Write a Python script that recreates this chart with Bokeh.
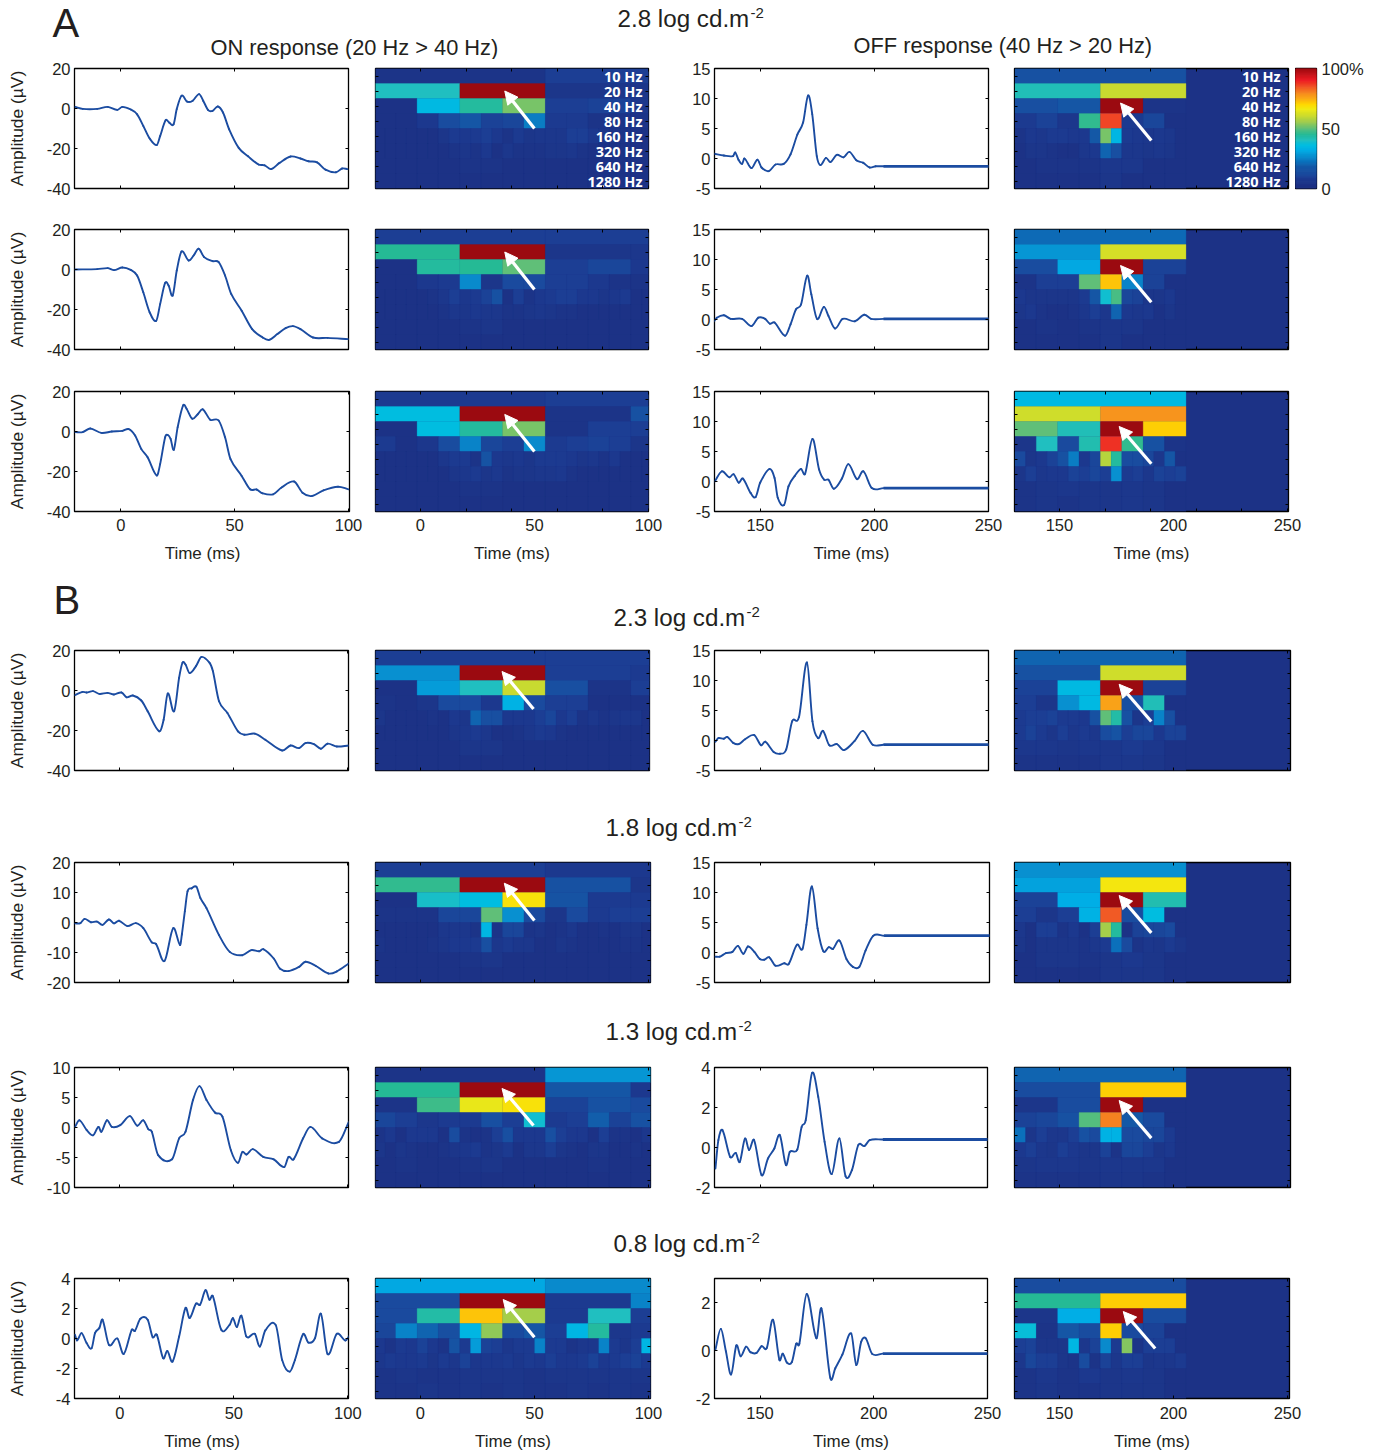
from bokeh.plotting import figure
from bokeh.layouts import column, row
from bokeh.models import Range1d, LinearAxis, FixedTicker, Label, Arrow, NormalHead, ColumnDataSource, LinearColorMapper
from bokeh.core.properties import value
from bokeh.embed import file_html
from bokeh.resources import INLINE

# ---------- traces (time in ms, amplitude in uV) ----------
ON_A1_T = [-20,-16.7,-10.3,-5.7,-1.5,.7,4.4,7.2,9.9,12.7,15.8,17.3,19.7,21.3,23.2,24.6,26.7,29.2,31.6,34.4,36.2,38.4,40.3,42.6,44.9,47.6,51.8,55.9,60.5,63.2,66,69.7,74.6,78.9,82.5,86.2,89.9,94.5,97.2,99.6]
ON_A1_V = [.8,-.2,-.2,.8,-.7,.8,-.5,-2.9,-8.7,-15,-18.3,-13.8,-5.9,-7.1,-7.9,-.3,6.4,3.4,3.9,7.2,3.9,-.8,-1.2,1,-2,-10.4,-19.7,-23.9,-28,-28.4,-30.3,-27.2,-24,-25,-26.4,-26.9,-30.6,-31.9,-30,-30.3]
ON_A2_T = [-20,-10.3,-5.7,-2.9,.7,4.4,7.2,9.9,12.7,15.6,17.3,19.5,21,22.8,24.6,26.7,29.8,32,34.2,36.6,40.3,43,45.8,48.5,53.1,57.7,62.3,65.1,68.8,72.4,75.6,78.9,84.4,90.8,100]
ON_A2_V = [0,.2,.7,-.3,1,-.2,-3,-11.4,-21.4,-25.6,-17.3,-6.7,-8,-13,-.5,9,4.5,7,10.4,6.2,4.2,3.7,-3,-12.2,-20.6,-29.8,-34,-35.2,-32.3,-29.3,-28.3,-29.8,-34,-34.2,-34.8]
ON_A3_T = [-20,-16.7,-13.4,-8.5,-3.9,.7,3.5,6.3,9,11.8,15.8,17.3,19.5,20.6,21.9,23.3,25,27.4,28.9,31.4,33.8,36,39.3,43,45.8,48.2,53.1,56.8,59.6,62.3,66.9,70.6,76.1,79.8,83.8,89,95.4,100]
ON_A3_V = [-.3,-.3,1.5,-.7,0,.3,1.2,-2,-8.7,-12.9,-22,-16.3,-2.9,-1.7,-3.7,-9.1,2.2,13.1,11.4,6.4,8.6,11.1,5.9,5.5,-2.9,-13.8,-22.2,-28.9,-29,-30.9,-31.4,-28,-25,-30.6,-32.3,-29.4,-27.6,-28.9]
ON_B1_T = [-19.7,-16.4,-14.6,-11.8,-9,-5.4,-2.6,.7,3,5.7,9.4,12.2,17.3,19.2,21,23.8,26,27.5,28.8,30.6,33.4,35.8,39.3,40.8,43.5,47.2,51.8,54.6,59.2,63.8,71.2,74.9,78.6,81.4,85.1,88.2,91.1,95.2,100.4]
ON_B1_V = [-2.3,-.7,-1,-.3,-1.7,-1.2,-2,-1,-3.4,-2.5,-5,-10.4,-20.4,-14.6,-1.5,-10.4,6.4,13.9,13,8.7,12.2,16.8,13.9,9.7,-5.4,-11.2,-20.4,-22.1,-21.6,-24.6,-30,-27.5,-28.8,-26.3,-26.8,-29.1,-26.6,-28,-27.5]
ON_B2_T = [-19.7,-17.3,-15.5,-12.7,-10,-7.6,-4.8,-2.6,-.4,3.3,7,10.3,14,15.9,19.6,23.4,26.4,27.2,28.5,29.7,31.5,33.6,35.3,38,43.5,48.2,53.7,57.7,61.1,62.9,67.5,70.3,74,78.6,81.4,86,91.5,95.2,100.4]
ON_B2_V = [-.3,-.2,1.2,.1,.3,-.8,1,-.3,.6,-1.2,-.2,-1.9,-6.6,-7.2,-12.8,-1.9,-7.5,-4,3.7,10.4,11.4,11.9,8.2,4.8,-4.2,-9.8,-10.9,-9.2,-9.6,-8.9,-12,-15.4,-16.2,-14.8,-13.1,-14.5,-17,-16.3,-13.7]
ON_B3_T = [-19.7,-17.7,-14.6,-11.8,-9.4,-8.1,-5.7,-3.5,.2,4.4,7.6,10.3,12.5,14,16.8,22.9,26,28.8,32.1,34.9,38,41.7,45,48.7,51.8,53.7,55.5,58.3,62.9,67.5,72.1,74,76.2,80.4,83.6,88.7,96.1,100.4]
ON_B3_V = [.1,1.2,-.4,-1.3,.1,-.7,1.2,.1,.4,1.9,.3,1.2,-.3,-.7,-4.6,-5.3,-1.8,-.7,4.6,6.9,4.6,2.5,1.8,-3.8,-5.9,-4.1,-4.5,-3.6,-4.9,-5.3,-6.6,-4.9,-5.3,-1.8,.1,-1.8,-2.4,.9]
ON_B4_T = [-19.7,-18.8,-16.8,-14.6,-12.4,-10.9,-9,-7.6,-4.8,-1.1,1.7,5.2,6.6,9,12.2,14.4,16.2,19,20.8,23.1,26,28.8,30.6,33.4,35.2,37.6,39.3,40.8,44.5,48.2,49.6,51.3,53.3,55.5,59.2,61.4,63.8,68.4,71.2,74.5,76.8,80.4,82.7,85.6,88.2,91.1,95.2,98.9,100.7]
ON_B4_V = [.25,-.13,.36,-.3,-.65,.36,.7,1.25,-.42,0,-1.03,.58,.51,1.32,1.25,.09,.25,-1.32,-.83,-1.54,.13,2.03,1.36,2.32,2.26,3.22,2.59,2.82,.58,.92,1.36,.76,1.52,.13,.31,-.54,.54,.89,-1.43,-2.21,-1.43,.29,-.27,.02,1.65,-1.03,.31,-.13,.18]

OFF_A1_T = [129.8,134.1,138.1,139.1,140.5,142.1,143.1,146.2,148.8,150.6,153.8,156.7,160.3,163.3,166.3,168.8,171,172.8,174.8,176.4,178.8,180.8,183.5,186.5,189.1,192.1,195,198,200.6,204]
OFF_A1_V = [.8,.5,.4,1,-.2,-.9,0,-1.6,-.2,-1.5,-2.1,-1,-.9,.7,4,6,10.5,7.4,.4,-1.1,.1,-.6,.6,.2,1.1,-.3,-.7,-1.5,-1.3,-1.3]
OFF_A2_T = [129.8,131,134.1,137.1,142.1,146.2,149.2,152.2,154.2,156.3,160.9,163.3,165.7,167.9,170.6,172.4,174.9,177.9,179.9,182.8,186.1,191.5,195.6,198.6,204]
OFF_A2_V = [-.3,.3,.7,.1,.1,-1.1,.3,.1,-.7,-.5,-2.7,-.8,1.7,2.5,7.3,4.2,.1,2.1,.6,-1.5,.1,-.3,.8,.1,.1]
OFF_A3_T = [130.1,133.2,136.5,138.4,140.6,142.4,145.8,148,150,154.1,156.3,157.7,160.5,162.4,165.1,167.9,169.7,172.9,175.8,178,179.9,182.3,185.8,188.6,192.4,195.2,198.9,204]
OFF_A3_V = [0,1.7,.7,1.2,-.2,.5,-1.9,-2.6,-.2,2.1,.6,-2.7,-3.9,-.8,.9,2.1,1.3,7.1,2,.3,.3,-1.2,.5,2.9,.4,1.7,-1.1,-1.1]
OFF_B1_T = [130.4,131.7,134.1,135.6,138.2,140.6,143.4,147.4,150.4,152.2,155.9,158.7,161.4,164,167,170.5,172.9,175.3,177.5,180.3,183.6,186.7,191.3,195,199.3,204]
OFF_B1_V = [-.2,.4,.3,.6,-.4,-.6,.2,.9,-.8,-.2,-1.9,-2.2,-1.5,3.2,3.9,13,3.2,.4,1.6,-.8,-.6,-1.6,-.1,1.6,-.7,-.7]
OFF_B2_T = [130.4,132.3,135,137.8,140.2,142.6,144.6,147.4,149.8,151.7,153.9,156.6,160.5,162.4,166,168.4,170.1,172.5,175,177.5,179.9,181.7,184.5,187.6,190.4,193.2,195.9,199.3,204]
OFF_B2_V = [-.7,-.7,-.1,.1,1.1,-.2,1,.1,-1.1,-1.2,-.8,-2.2,-1.8,-1.9,1.3,.6,4.6,11,4,.2,.9,.6,2,-1.1,-2.4,-2.4,.3,2.8,2.8]
OFF_B3_T = [130.4,131.7,133.5,136.9,139.3,141.1,143.4,145.2,147.4,150.7,153.5,156.3,158.7,161.4,163.1,166.4,168.3,170.1,172.9,175.6,178.4,181.5,184.9,187.6,190.4,193.2,195.9,198.2,204]
OFF_B3_V = [-1.05,.37,.87,-.47,-.27,-.72,.45,-.13,.37,-1.38,-.55,-.05,.62,-.88,-.22,-.1,1.03,1.37,3.73,2.53,.28,-1.33,.45,-1.43,-1.13,.12,.07,.37,.4]
OFF_B4_T = [130.4,132.8,135,137.3,139.6,141.5,143.9,145.8,148.5,150.7,153,155.7,158.5,160,161.8,164,165.9,167.3,170.5,174.8,177,180.9,183.1,186.2,190.1,192.3,194.5,196.5,199.3,204]
OFF_B4_V = [.04,.9,-.03,-1,.21,-.24,.16,-.07,-.1,.18,.11,1.28,-.38,-.13,-.5,-.48,.28,.28,2.35,.51,1.75,-1.14,-.74,-.17,.71,-.6,.37,.51,-.14,-.13]
# flat stretch at the end of each OFF trace
OFF_TAIL_T = [204, 251]
OFF_TAIL_LEVEL = {"A1": -1.3, "A2": .1, "A3": -1.1, "B1": -.7, "B2": 2.8, "B3": .4, "B4": -.13}

# ---------- scalograms (percent; rows 10 Hz to 1280 Hz, each row a list of cells) ----------
FREQS = ["10 Hz", "20 Hz", "40 Hz", "80 Hz", "160 Hz", "320 Hz", "640 Hz", "1280 Hz"]
CELL_MS = [75, 37.5, 18.75, 9.375, 4.6875, 4.6875, 9.375, 9.375]

HEAT_A1_ON = [[4,9],[40,100,5,5],[3,35,44,52,9,10,6,5],
 [3,3,7,13,17,10,11,24,8,8,4,4,4,4],
 [3,3,3,3,3,3,5,8,7,8,9,7,4,8,5,6,6,6,9,9,7,5,4,4,3,3],
 [3,3,3,3,3,3,3,4,5,4,7,3,6,4,4,4,5,5,6,4,3,3,3,3,3,3],
 [3,3,3,3,4,4,3,3,3,3,3,3,3],[3,3,3,3,3,3,3,3,3,3,3,3,3]]
HEAT_A2_ON = [[9,9],[45,100,5,6],[3,44,45,50,9,11,7,7],
 [3,3,7,8,26,5,12,12,9,9,7,4,4,4],
 [3,3,3,3,3,4,6,9,6,8,10,15,3,9,4,7,8,9,9,7,7,5,6,8,3,3],
 [3,3,3,3,3,3,4,6,5,7,6,6,4,4,5,6,5,4,4,3,3,3,3,3,3,3],
 [3,3,3,3,4,5,3,3,3,3,3,3,3],[3,3,3,3,3,3,3,3,3,3,3,3,3]]
HEAT_A3_ON = [[8,9],[36,100,4,15],[3,36,44,52,4,9,9,6],
 [8,3,6,13,25,11,9,26,8,9,10,9,5,5],
 [3,3,3,3,3,3,6,8,8,4,16,7,6,7,5,8,8,8,7,5,6,4,7,3,3,3],
 [3,3,3,3,3,3,3,5,6,8,5,7,4,5,5,6,6,7,4,3,3,3,3,3,3,3],
 [3,3,3,3,4,4,3,3,3,3,3,3,3],[3,3,3,3,3,3,3,3,3,3,3,3,3]]
HEAT_B1_ON = [[9,9],[27,100,9,8],[3,29,40,60,14,4,9,4],
 [4,3,5,12,12,7,33,12,9,9,3,3,3,3],
 [5,3,3,3,3,4,3,7,5,20,14,14,7,7,7,9,11,7,9,4,6,4,5,6,6,3],
 [3,3,3,3,3,3,3,5,6,8,6,3,3,4,6,8,7,4,3,3,3,3,3,3,3,3],
 [3,3,3,3,5,5,3,3,3,3,3,3,3],[3,3,3,3,3,3,3,3,3,3,3,3,3]]
HEAT_B2_ON = [[9,7],[46,100,15,5],[3,39,36,68,16,8,8,8],
 [4,4,4,11,11,50,27,12,5,12,8,9,9,9],
 [3,3,3,3,3,3,6,6,6,4,34,4,11,11,4,5,3,4,6,3,3,4,3,5,5,3],
 [4,3,3,3,3,4,5,7,7,8,14,6,8,6,6,3,3,5,4,3,3,3,3,4,4,3],
 [3,3,3,3,4,5,3,3,3,3,3,3,3],[3,3,3,3,3,3,3,3,3,3,3,3,3]]
HEAT_B3_ON = [[4,28],[45,100,17,7],[4,47,65,68,10,15,12,12],
 [11,9,6,8,8,14,9,38,8,9,19,10,15,15],
 [4,7,3,7,7,7,3,13,4,3,4,9,14,7,7,7,14,9,7,7,3,9,4,4,3,6],
 [5,3,5,4,3,3,4,5,6,8,4,5,8,3,6,6,9,5,4,3,5,5,3,3,4,3],
 [3,4,3,3,4,5,3,3,3,3,4,3,3],[3,3,3,3,3,3,3,3,3,3,3,3,3]]
HEAT_B4_ON = [[31,26],[12,100,8,25],[12,43,72,56,8,40,9,9],
 [11,25,20,14,34,54,12,17,9,34,44,6,8,8],
 [7,4,8,7,10,7,4,16,8,29,10,9,6,8,8,25,8,8,4,6,6,25,8,5,9,34],
 [6,8,7,7,8,5,8,6,10,6,7,7,8,6,8,7,9,7,7,8,10,7,8,9,10,8],
 [4,5,4,4,5,5,5,4,5,5,5,5,5],[4,4,5,4,5,4,5,4,4,5,4,5,4]]

HEAT_A1_OFF = [[15],[41,60],[14,17,100,4],[8,10,6,46,86,8,11,3],
 [4,7,6,8,8,7,7,18,52,34,8,7,6,7,6,3],[3,5,5,4,3,3,6,7,20,14,6,6,5,6,5,3],
 [3,4,4,4,6,6,3,3],[3,3,3,3,5,3,3,3]]
HEAT_A2_OFF = [[21],[28,62],[13,31,100,10],[4,9,9,50,72,25,10,3],
 [7,5,5,5,5,5,8,17,38,48,11,10,5,5,7,3],[5,7,4,3,3,4,6,9,6,20,7,6,7,3,5,3],
 [3,4,3,4,5,5,3,3],[3,3,3,3,5,3,3,3]]
HEAT_A3_OFF = [[35],[61,78],[50,41,100,71],[5,40,12,42,88,46,15,4],
 [12,5,7,10,15,24,7,11,58,44,13,13,11,6,17,3],[5,9,6,7,7,10,9,11,9,27,8,9,6,10,9,10],
 [4,5,6,5,5,6,5,3],[4,5,4,5,5,6,5,3]]
HEAT_B1_OFF = [[20],[15,61],[10,35,100,10],[9,5,27,35,76,14,41,3],
 [8,9,9,10,8,8,7,15,50,43,15,5,9,25,14,3],[8,10,8,5,9,6,8,6,13,16,9,11,11,7,10,10],
 [6,6,5,6,6,8,6,3],[4,4,4,4,6,6,5,3]]
HEAT_B2_OFF = [[27],[30,67],[10,32,100,42],[9,5,9,33,84,13,36,3],
 [6,3,9,9,4,7,3,9,56,44,3,10,11,11,12,3],[5,3,5,5,5,5,4,6,8,22,12,4,6,5,8,5],
 [3,5,5,4,5,7,5,3],[3,3,3,3,5,5,5,3]]
HEAT_B3_OFF = [[20],[13,71],[5,13,100,3],[10,11,15,49,80,18,12,3],
 [22,5,9,6,6,9,15,12,33,33,12,12,11,11,8,3],[7,9,6,5,9,7,5,5,10,4,11,11,9,5,7,3],
 [5,6,6,5,6,6,6,3],[4,4,4,4,5,5,4,3]]
HEAT_B4_OFF = [[13],[45,71],[5,32,100,13],[37,4,17,13,71,12,10,3],
 [9,10,5,5,5,34,6,10,26,8,53,4,9,9,9,3],[6,11,9,9,5,4,13,4,10,6,9,9,5,6,6,8],
 [4,6,4,7,5,6,5,3],[4,5,4,4,5,5,5,3]]

# arrows: tail x, tail row, tip x, tip row
ARROWS = {
 "A1": ((50,4.0,37,1.5),(190.3,4.8,176.8,2.3)),
 "A2": ((50,4.0,37,1.5),(190.3,4.85,176.8,2.4)),
 "A3": ((50,4.0,37,1.53),(190.3,4.82,176.2,2.33)),
 "B1": ((49.6,3.9,35.8,1.4),(190.3,4.73,176.2,2.25)),
 "B2": ((50,3.87,36.8,1.38),(190.3,4.69,176.2,2.2)),
 "B3": ((49.6,3.87,35.8,1.4),(190.3,4.71,176.2,2.2)),
 "B4": ((50,3.91,36.3,1.4),(192,4.67,178,2.2)),
}

COLORBAR_LEVELS = list(range(0, 100))

# ---------- palette ----------
ANCHORS = [(0,"#1c2e80"),(8,"#1c3a90"),(12,"#1a4a9e"),(18,"#1458a6"),(22,"#0b70bb"),(27,"#0890d0"),(32,"#00aee6"),
           (36,"#00bde0"),(40,"#20bfc0"),(45,"#25ba95"),(50,"#60bf78"),(55,"#9ccb50"),(60,"#c8da30"),(66,"#f0ea14"),
           (70,"#ffd800"),(74,"#fbb012"),(78,"#f7941d"),(84,"#f15a25"),(90,"#ed1c24"),(100,"#9b0a10")]
def hex2rgb(h): return [int(h[i:i+2], 16) for i in (1, 3, 5)]
PALETTE = []
for i in range(101):
    for (a, ca), (b, cb) in zip(ANCHORS, ANCHORS[1:]):
        if a <= i <= b:
            f = (i - a) / (b - a)
            PALETTE.append("#%02x%02x%02x" % tuple(round(x + (y - x) * f) for x, y in zip(hex2rgb(ca), hex2rgb(cb))))
            break
MAPPER = LinearColorMapper(palette=PALETTE, low=0, high=100)
BASE = PALETTE[3]

FONT = "Liberation Sans"
INK = "#231f20"
LINE = "#1b4ca1"

def new_fig(left, fw, right, top, fh, bottom, xr, yr, bg="white"):
    p = figure(width=left + fw + right, height=top + fh + bottom,
               x_range=Range1d(*xr), y_range=Range1d(*yr),
               min_border_left=left, min_border_right=right, min_border_top=top, min_border_bottom=bottom,
               toolbar_location=None, output_backend="svg", x_axis_type=None, y_axis_type=None,
               background_fill_color=bg, border_fill_color="white")
    p.grid.visible = False
    p.outline_line_color = "black"
    p.outline_line_width = 1.3
    return p

def tick_axis(p, side, ticks, length=3):
    ax = LinearAxis(ticker=FixedTicker(ticks=ticks), major_tick_in=length, major_tick_out=0,
                    minor_tick_in=0, minor_tick_out=0, axis_line_color=None,
                    major_tick_line_color="black", major_tick_line_width=1,
                    major_label_text_font_size="0px", major_label_standoff=0,
                    major_label_overrides={t: "" for t in ticks})
    p.add_layout(ax, side)

def label_axis(p, side, ticks, name=None, standoff=4, tick=3, name_standoff=16, name_size="17px"):
    ax = LinearAxis(ticker=FixedTicker(ticks=ticks), major_tick_in=tick, major_tick_out=0,
                    minor_tick_in=0, minor_tick_out=0, axis_line_color=None,
                    major_tick_line_color="black", major_tick_line_width=1,
                    major_label_text_font_size="16.5px", major_label_text_font=FONT,
                    major_label_text_color=INK, major_label_standoff=standoff,
                    major_label_overrides={t: str(t) for t in ticks})
    if name:
        ax.axis_label = name
        ax.axis_label_text_font = FONT
        ax.axis_label_text_font_size = name_size
        ax.axis_label_text_font_style = "normal"
        ax.axis_label_text_color = INK
        ax.axis_label_standoff = name_standoff
    p.add_layout(ax, side)

def smooth(p, t, v, width):
    # curved segments through the read points, drawn by the library's bezier glyph
    n = len(t)
    slope = []
    for i in range(n):
        a, b = max(i - 1, 0), min(i + 1, n - 1)
        slope.append((v[b] - v[a]) / (t[b] - t[a]))
    x0, y0, x1, y1, cx0, cy0, cx1, cy1 = [], [], [], [], [], [], [], []
    for i in range(n - 1):
        d = t[i + 1] - t[i]
        x0.append(t[i]); y0.append(v[i]); x1.append(t[i + 1]); y1.append(v[i + 1])
        cx0.append(t[i] + d / 3); cy0.append(v[i] + slope[i] * d / 3)
        cx1.append(t[i + 1] - d / 3); cy1.append(v[i + 1] - slope[i + 1] * d / 3)
    p.bezier(x0=x0, y0=y0, x1=x1, y1=y1, cx0=cx0, cy0=cy0, cx1=cx1, cy1=cy1,
             line_color=LINE, line_width=width, line_cap="round")

def trace(t, v, yr, yticks, xr, xticks, left, fw, right, top, fh, bottom, ylabel, xlabel, tail=None,
          name_standoff=17, lab=7, nm=10, time_label="Time (ms)"):
    p = new_fig(left, fw, right, top, fh, bottom, xr, yr)
    if ylabel:
        label_axis(p, "left", yticks, "Amplitude (µV)", name_standoff=name_standoff, name_size="17.4px")
    else:
        label_axis(p, "left", yticks)
    tick_axis(p, "right", yticks)
    tick_axis(p, "above", xticks)
    if xlabel:
        label_axis(p, "below", xticks, time_label, standoff=lab, name_standoff=nm)
    else:
        tick_axis(p, "below", xticks)
    smooth(p, t, v, 1.9)
    if tail is not None:
        p.line(OFF_TAIL_T, [tail, tail], line_color=LINE, line_width=2.8)
    return p

def heat(rows, t0, xr, xticks, xlabels, left, fw, right, top, fh, bottom, arrow, freq_x=None, lab=7, nm=10):
    p = new_fig(left, fw, right, top, fh, bottom, xr, (8, 0), bg=BASE)
    x0, x1, y0, y1, vals = [], [], [], [], []
    for k, cells in enumerate(rows):
        w = CELL_MS[k]
        for i, val in enumerate(cells):
            x0.append(t0 + i * w); x1.append(t0 + (i + 1) * w)
            y0.append(k); y1.append(k + 1); vals.append(val)
    src = ColumnDataSource(dict(x0=x0, x1=x1, y0=y0, y1=y1, val=vals))
    fill = {"field": "val", "transform": MAPPER}
    p.quad(left="x0", right="x1", bottom="y1", top="y0", source=src, fill_color=fill, line_color=fill, line_width=0.3)
    rt = [k + 0.5 for k in range(8)]
    tick_axis(p, "left", rt)
    tick_axis(p, "right", rt)
    tick_axis(p, "above", xticks)
    tick_axis(p, "below", xticks)
    if xlabels:
        label_axis(p, "below", xlabels, "Time (ms)", tick=0, standoff=lab, name_standoff=nm)
    xs, ys, xe, ye = arrow
    p.add_layout(Arrow(end=NormalHead(size=13, fill_color="white", line_color="white"),
                       x_start=xs, y_start=ys, x_end=xe, y_end=ye, line_color="white", line_width=3.2))
    if freq_x is not None:
        p.text([freq_x] * 8, [k + 0.53 for k in range(8)], text=FREQS, text_color="white",
               text_font=value("Open Sans"), text_font_style="bold", text_font_size="14.5px",
               text_align="right", text_baseline="middle")
    return p

def band(y0, y1, items):
    p = figure(width=1380, height=y1 - y0, x_range=Range1d(0, 1380), y_range=Range1d(y1, y0),
               min_border=0, toolbar_location=None, output_backend="svg", x_axis_type=None, y_axis_type=None)
    p.grid.visible = False
    p.outline_line_color = None
    p.line([8, 9], [y0, y0], line_color="white", line_alpha=0)
    for x, y, txt, size in items:
        p.add_layout(Label(x=x, y=y, text=txt, text_font=FONT, text_font_size=size, text_color=INK,
                           text_baseline="middle", text_align="left"))
    return p

def heading(x, y, txt):
    return [(x, y, txt + " log cd.m", "24.2px"), (x + 133, y - 6, "-2", "15px")]

ROWS = [
 ("A1", 68, (274,273,274,274), ON_A1_T, ON_A1_V, (-40,20), [-40,-20,0,20], OFF_A1_T, OFF_A1_V, (-5,15), [-5,0,5,10,15], HEAT_A1_ON, HEAT_A1_OFF, 10),
 ("A2", 229, (274,273,274,274), ON_A2_T, ON_A2_V, (-40,20), [-40,-20,0,20], OFF_A2_T, OFF_A2_V, (-5,15), [-5,0,5,10,15], HEAT_A2_ON, HEAT_A2_OFF, 10),
 ("A3", 391, (275,273,274,274), ON_A3_T, ON_A3_V, (-40,20), [-40,-20,0,20], OFF_A3_T, OFF_A3_V, (-5,15), [-5,0,5,10,15], HEAT_A3_ON, HEAT_A3_OFF, 60),
 ("B1", 650, (274,274,274,276), ON_B1_T, ON_B1_V, (-40,20), [-40,-20,0,20], OFF_B1_T, OFF_B1_V, (-5,15), [-5,0,5,10,15], HEAT_B1_ON, HEAT_B1_OFF, 10),
 ("B2", 862, (274,275,275,276), ON_B2_T, ON_B2_V, (-20,20), [-20,-10,0,10,20], OFF_B2_T, OFF_B2_V, (-5,15), [-5,0,5,10,15], HEAT_B2_ON, HEAT_B2_OFF, 10),
 ("B3", 1067, (274,275,273,276), ON_B3_T, ON_B3_V, (-10,10), [-10,-5,0,5,10], OFF_B3_T, OFF_B3_V, (-2,4), [-2,0,2,4], HEAT_B3_ON, HEAT_B3_OFF, 10),
 ("B4", 1278, (274,275,273,275), ON_B4_T, ON_B4_V, (-4,4), [-4,-2,0,2,4], OFF_B4_T, OFF_B4_V, (-2,3), [-2,0,2], HEAT_B4_ON, HEAT_B4_OFF, 55),
]

def colorbar():
    p = new_fig(0, 21, 64, 9, 120, 10, (0, 1), (0, 100))
    src = ColumnDataSource(dict(lo=COLORBAR_LEVELS, hi=[v + 1 for v in COLORBAR_LEVELS], val=COLORBAR_LEVELS))
    fill = {"field": "val", "transform": MAPPER}
    p.quad(left=0, right=1, bottom="lo", top="hi", source=src, fill_color=fill, line_color=fill, line_width=1)
    ax = LinearAxis(ticker=FixedTicker(ticks=[0, 50, 100]), major_tick_in=0, major_tick_out=0, minor_tick_in=0, minor_tick_out=0,
                    axis_line_color=None, major_label_text_font_size="16.5px", major_label_text_font=FONT,
                    major_label_text_color=INK, major_label_standoff=5,
                    major_label_overrides={0: "0", 50: "50", 100: "100%"})
    p.add_layout(ax, "right")
    return p

def build_row(spec):
    key, top, (w1, w2, w3, w4), ont, onv, onr, ont_ticks, offt, offv, offr, off_ticks, hon, hoff, bottom = spec
    is_a = key.startswith("A")
    last = bottom > 20
    lab, nm = (7, 10) if key != "B4" else (8, 10)
    xr_on = (-20.3, 100) if is_a else (-19.9, 100.3)
    xr_on = (xr_on[0], xr_on[1] + (w1 - 274) / 2.28)
    xr_off = (130, 250)
    h_ticks_l = [0, 20, 40, 60, 80, 100] if is_a else [0, 50, 100]
    h_ticks_r = [150, 170, 190, 210, 230, 250] if is_a else [150, 200, 250]
    arrow_l, arrow_r = ARROWS[key]
    kids = []
    so = 26 if key == "B4" else 17
    # trailing no-break spaces move the first column's centred axis title left, as in the source figure
    kids.append(trace(ont, onv, onr, ont_ticks, xr_on, [0, 50, 100], 74, w1, 370 - 74 - w1, 9, 120, bottom, True, last,
                      name_standoff=so, lab=lab, nm=nm, time_label="Time (ms)" + "\u00a0" * 4))
    kids.append(heat(hon, -20.2, (-19.7, -19.7 + w2 / 2.28), h_ticks_l, [0, 50, 100] if last else None,
                     5, w2, 664 - 375 - w2, 9, 120, bottom, arrow_l, 97.4 if key == "A1" else None, lab=lab, nm=nm))
    kids.append(trace(offt, offv, offr, off_ticks, xr_off, [150, 200, 250], 50, w3, 1009 - 714 - w3, 9, 120, bottom, False, last,
                      tail=OFF_TAIL_LEVEL[key], lab=lab, nm=nm))
    kids.append(heat(hoff, 130.5, (130.3, 130.3 + w4 / 2.28), h_ticks_r, [150, 200, 250] if last else None,
                     5, w4, (1295 - 1014 - w4) if key == "A1" else 22, 9, 120, bottom, arrow_r, 247 if key == "A1" else None, lab=lab, nm=nm))
    if key == "A1":
        kids.append(colorbar())
    return row(*kids, spacing=0)

items = [
    band(0, 59, [(52, 22.5, "A", "40px")] + heading(617, 18, "2.8") +
         [(210, 46.5, "ON response (20 Hz > 40 Hz)", "21.8px"), (853, 44.5, "OFF response (40 Hz > 20 Hz)", "21.8px")]),
    build_row(ROWS[0]),
    band(198, 220, []),
    build_row(ROWS[1]),
    band(359, 382, []),
    build_row(ROWS[2]),
    band(571, 641, [(53, 599, "B", "40px")] + heading(613, 617, "2.3")),
    build_row(ROWS[3]),
    band(780, 853, heading(605, 827, "1.8")),
    build_row(ROWS[4]),
    band(992, 1058, heading(605, 1031, "1.3")),
    build_row(ROWS[5]),
    band(1197, 1269, heading(613, 1243, "0.8")),
    build_row(ROWS[6]),
]
page = column(*items, spacing=0)
open("out.html", "w").write(file_html(page, INLINE))
